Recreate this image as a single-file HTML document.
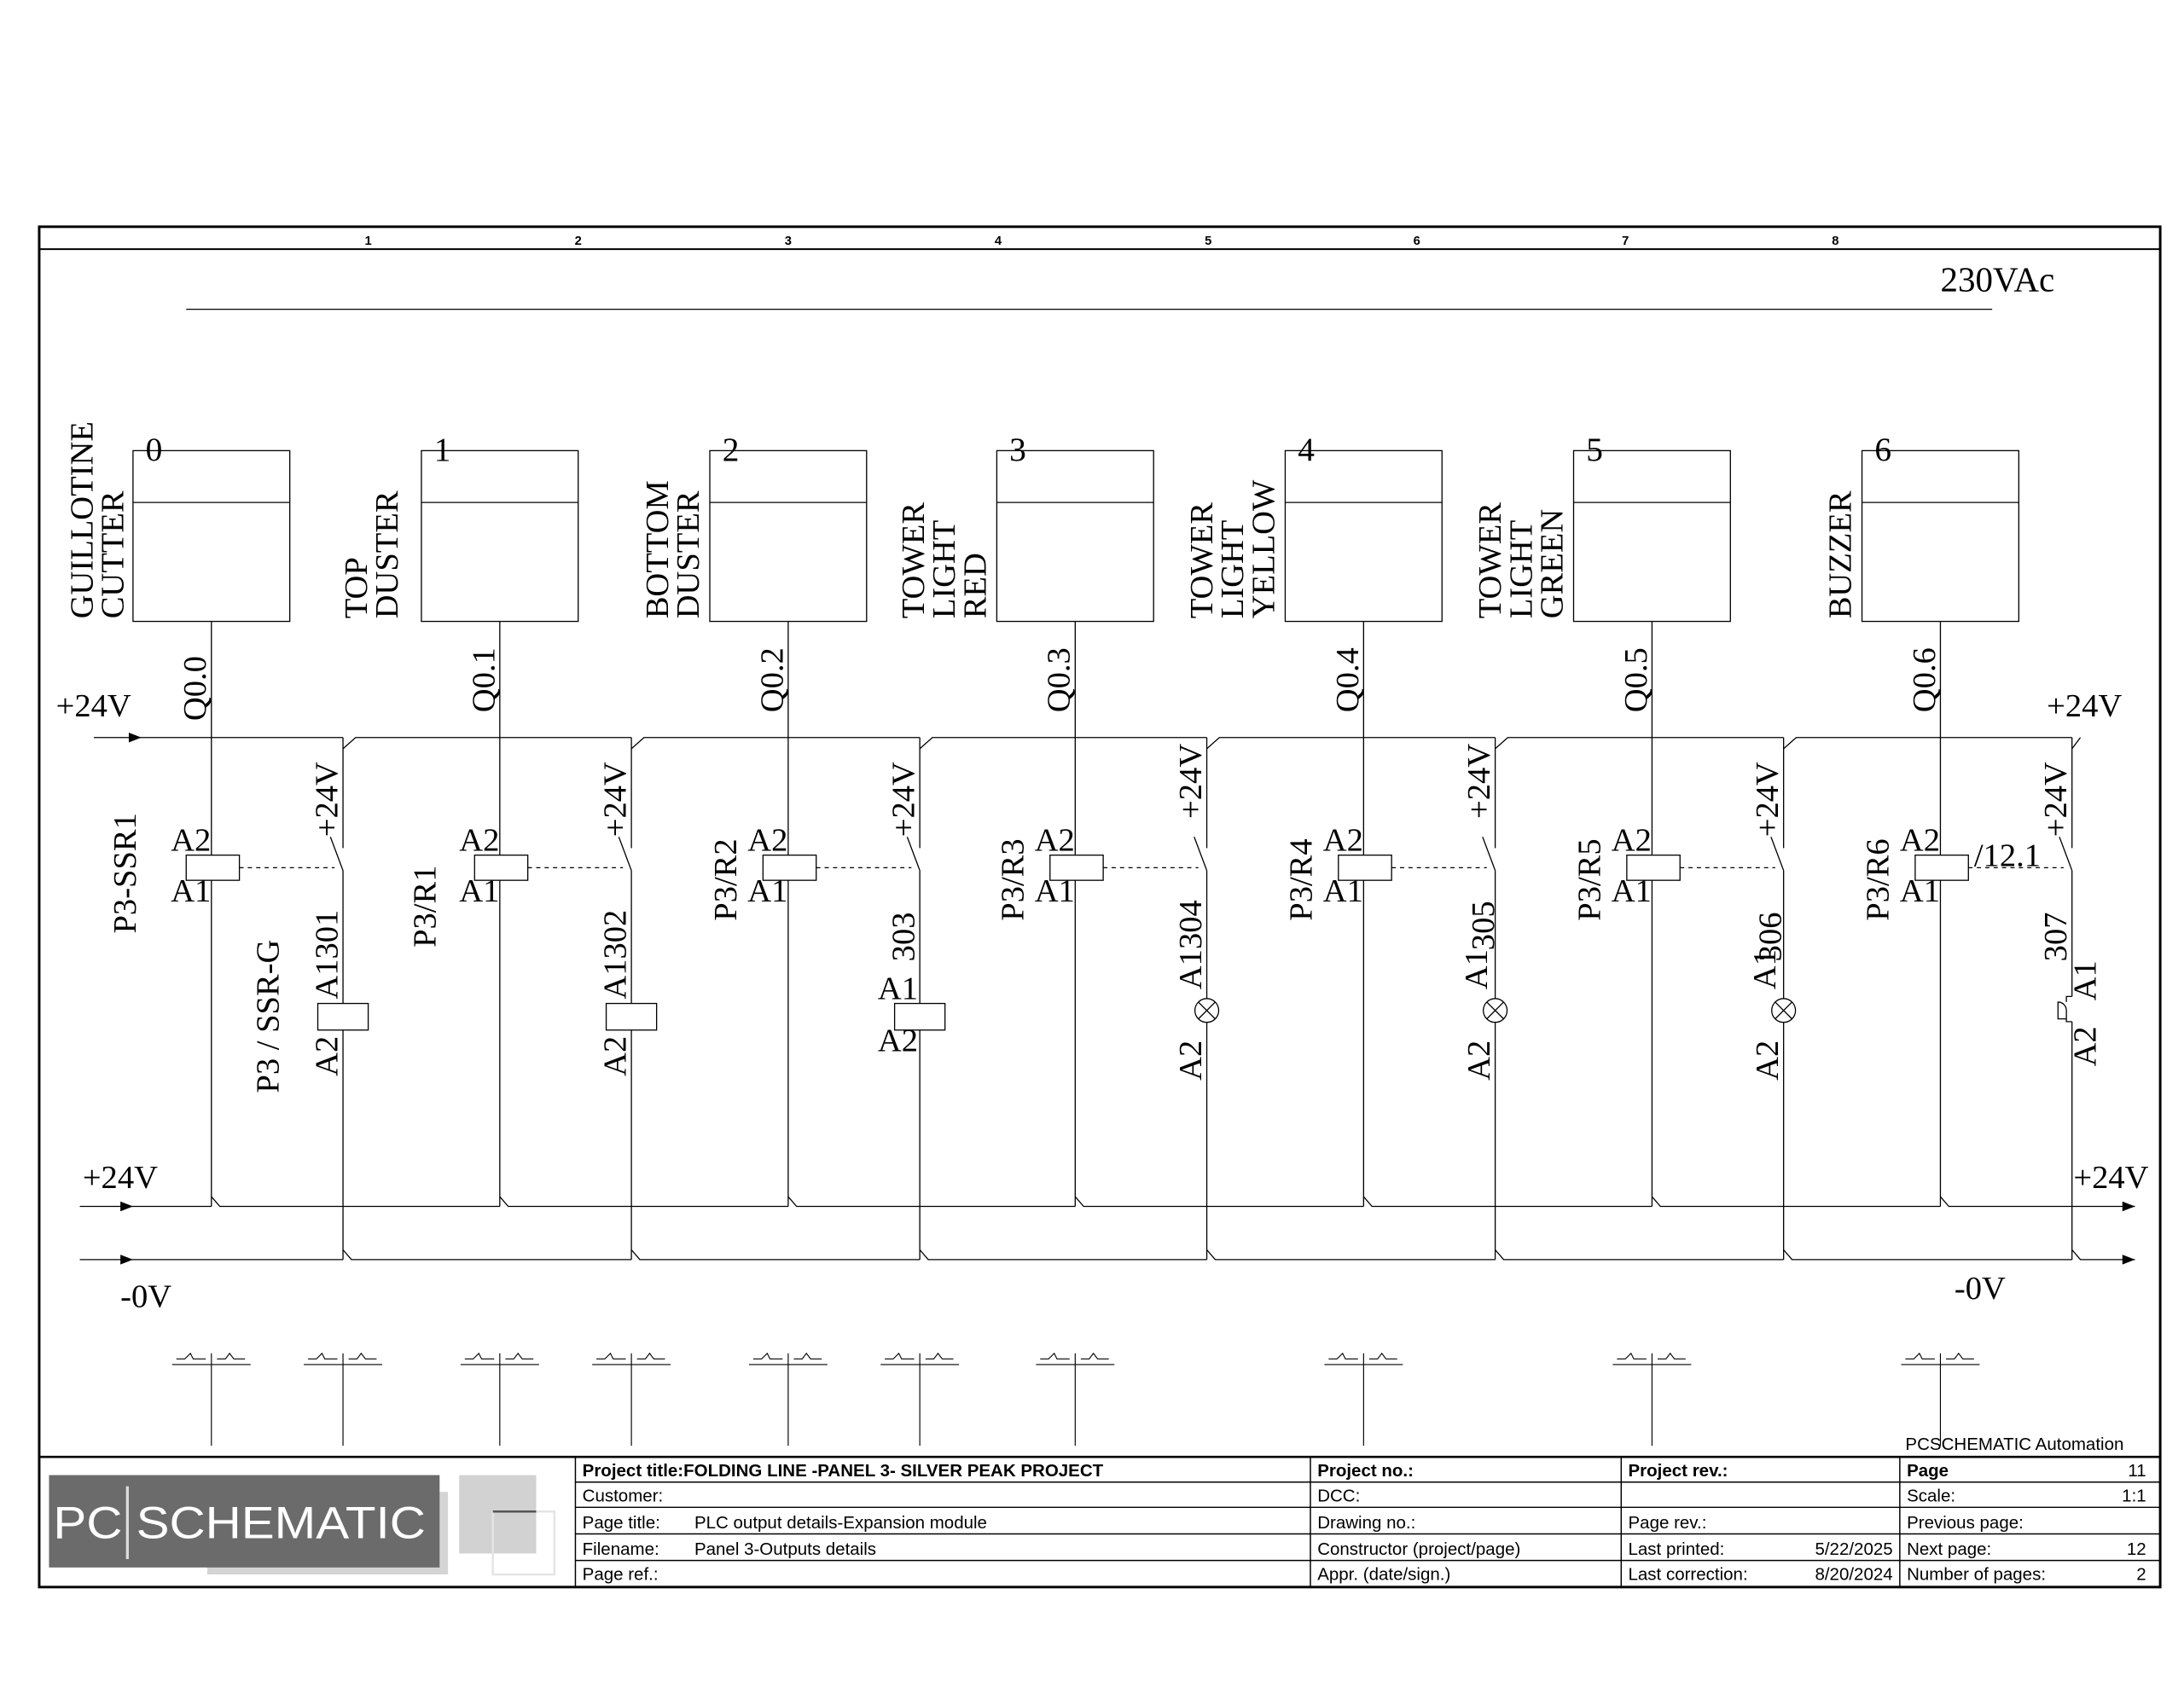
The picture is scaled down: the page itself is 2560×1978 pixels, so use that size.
<!DOCTYPE html>
<html><head><meta charset="utf-8"><style>
html,body{margin:0;padding:0;background:#fff}
svg{display:block}
.s{font-family:"Liberation Serif",serif;fill:#000}
.a{font-family:"Liberation Sans Narrow","Liberation Sans",sans-serif;fill:#000}
</style></head><body>
<svg width="2560" height="1978" viewBox="0 0 1560 1205.4" preserveAspectRatio="none" xmlns="http://www.w3.org/2000/svg">
<g fill="none" stroke="#000" stroke-width="0.8">
<rect x="28" y="162" width="1515" height="972" stroke-width="1.8"/>
<line x1="28" y1="178" x2="1543" y2="178" stroke-width="1.2"/>
<line x1="133" y1="221" x2="1423" y2="221"/>
<rect x="95" y="322" width="112" height="122"/><line x1="95" y1="359" x2="207" y2="359"/>
<rect x="301" y="322" width="112" height="122"/><line x1="301" y1="359" x2="413" y2="359"/>
<rect x="507" y="322" width="112" height="122"/><line x1="507" y1="359" x2="619" y2="359"/>
<rect x="712" y="322" width="112" height="122"/><line x1="712" y1="359" x2="824" y2="359"/>
<rect x="918" y="322" width="112" height="122"/><line x1="918" y1="359" x2="1030" y2="359"/>
<rect x="1124" y="322" width="112" height="122"/><line x1="1124" y1="359" x2="1236" y2="359"/>
<rect x="1330" y="322" width="112" height="122"/><line x1="1330" y1="359" x2="1442" y2="359"/>
<path d="M151 444V862M357 444V862M563 444V862M768 444V862M974 444V862M1180 444V862M1386 444V862"/>
<path d="M67 527H245 M245 535L254 527H451 M451 535L460 527H657 M657 535L666 527H862 M862 535L871 527H1068 M1068 535L1077 527H1274 M1274 535L1283 527H1480 M1480 535L1486 527"/>
<path d="M245 527V606M451 527V606M657 527V606M862 527V606M1068 527V606M1274 527V606M1480 527V606"/>
<path d="M236 598L245 622M442 598L451 622M648 598L657 622M853 598L862 622M1059 598L1068 622M1265 598L1274 622M1471 598L1480 622"/>
<path d="M245 622V900M451 622V900M657 622V900M862 622V900M1068 622V900M1274 622V900M1480 622V712M1480 730V900"/>
<g fill="#fff">
<rect x="133" y="611" width="38" height="18"/><rect x="339" y="611" width="38" height="18"/><rect x="545" y="611" width="38" height="18"/><rect x="750" y="611" width="38" height="18"/><rect x="956" y="611" width="38" height="18"/><rect x="1162" y="611" width="38" height="18"/><rect x="1368" y="611" width="38" height="18"/>
<rect x="227" y="717" width="36" height="19"/><rect x="433" y="717" width="36" height="19"/><rect x="639" y="717" width="36" height="19"/>
<circle cx="862" cy="722" r="8.5"/><circle cx="1068" cy="722" r="8.5"/><circle cx="1274" cy="722" r="8.5"/>
</g>
<path d="M856 716L868 728M868 716L856 728M1062 716L1074 728M1074 716L1062 728M1268 716L1280 728M1280 716L1268 728"/>
<path d="M1480 712H1476V716M1470 716A6 6 0 0 1 1476 722V728H1470ZM1476 728V730H1480" />
<path stroke-dasharray="3 3" d="M171 620H239M377 620H445M583 620H651M788 620H856M994 620H1062M1200 620H1268M1406 620H1474"/>
<path d="M57 862H151 M151 855L157 862H357 M357 855L363 862H563 M563 855L569 862H768 M768 855L774 862H974 M974 855L980 862H1180 M1180 855L1186 862H1386 M1386 855L1392 862H1525"/>
<path d="M57 900H245 M245 893L251 900H451 M451 893L457 900H657 M657 893L663 900H862 M862 893L868 900H1068 M1068 893L1074 900H1274 M1274 893L1280 900H1480 M1480 893L1486 900H1525"/>
<g stroke-width="0.7">
<path d="M151 967V1033M123 975H179M245 967V1033M217 975H273M357 967V1033M329 975H385M451 967V1033M423 975H479M563 967V1033M535 975H591M657 967V1033M629 975H685M768 967V1033M740 975H796M974 967V1033M946 975H1002M1180 967V1033M1152 975H1208M1386 967V1033M1358 975H1414"/>
<path d="M126 971h6l4-4 2 4h9 M155 971h6l3-4 3 4h8 M220 971h6l4-4 2 4h9 M249 971h6l3-4 3 4h8 M332 971h6l4-4 2 4h9 M361 971h6l3-4 3 4h8 M426 971h6l4-4 2 4h9 M455 971h6l3-4 3 4h8 M538 971h6l4-4 2 4h9 M567 971h6l3-4 3 4h8 M632 971h6l4-4 2 4h9 M661 971h6l3-4 3 4h8 M743 971h6l4-4 2 4h9 M772 971h6l3-4 3 4h8 M949 971h6l4-4 2 4h9 M978 971h6l3-4 3 4h8 M1155 971h6l4-4 2 4h9 M1184 971h6l3-4 3 4h8 M1361 971h6l4-4 2 4h9 M1390 971h6l3-4 3 4h8"/>
</g>
<line x1="28" y1="1041" x2="1543" y2="1041" stroke-width="1.6"/>
<path d="M411 1041V1134M936 1041V1134M1158 1041V1134M1357 1041V1134" stroke-width="0.9"/>
<path d="M411 1059H1543M411 1077H1543M411 1096H1543M411 1115H1543" stroke-width="0.9"/>
</g>
<g fill="#000">
<polygon points="92,523.5 101,527 92,530.5"/>
<polygon points="86,858.5 95,862 86,865.5"/>
<polygon points="86,896.5 95,900 86,903.5"/>
<polygon points="1516,858.5 1525,862 1516,865.5"/>
<polygon points="1516,896.5 1525,900 1516,903.5"/>
</g>
<g class="a" font-size="9" font-weight="bold" text-anchor="middle">
<text x="263" y="175">1</text><text x="413" y="175">2</text><text x="563" y="175">3</text><text x="713" y="175">4</text><text x="863" y="175">5</text><text x="1012" y="175">6</text><text x="1161" y="175">7</text><text x="1311" y="175">8</text>
</g>
<g class="s" font-size="23.5">
<text x="1386" y="208" font-size="25">230VAc</text>
<g font-size="24">
<text x="104" y="329">0</text><text x="310" y="329">1</text><text x="516" y="329">2</text><text x="721" y="329">3</text><text x="927" y="329">4</text><text x="1133" y="329">5</text><text x="1339" y="329">6</text>
</g>
<text x="40" y="512">+24V</text><text x="1462" y="512">+24V</text>
<text x="59" y="849">+24V</text><text x="1481" y="849">+24V</text>
<text x="86" y="934">-0V</text><text x="1396" y="928">-0V</text>
<text x="1410" y="619">/12.1</text>
<text x="122" y="608">A2</text><text x="122" y="644">A1</text>
<text x="328" y="608">A2</text><text x="328" y="644">A1</text>
<text x="534" y="608">A2</text><text x="534" y="644">A1</text>
<text x="739" y="608">A2</text><text x="739" y="644">A1</text>
<text x="945" y="608">A2</text><text x="945" y="644">A1</text>
<text x="1151" y="608">A2</text><text x="1151" y="644">A1</text>
<text x="1357" y="608">A2</text><text x="1357" y="644">A1</text>
<text x="627" y="714">A1</text><text x="627" y="751">A2</text>
</g>
<g class="s" font-size="23.5">
<text transform="translate(66,442) rotate(-90)">GUILLOTINE</text>
<text transform="translate(88,442) rotate(-90)">CUTTER</text>
<text transform="translate(262,442) rotate(-90)">TOP</text>
<text transform="translate(284,442) rotate(-90)">DUSTER</text>
<text transform="translate(477,442) rotate(-90)">BOTTOM</text>
<text transform="translate(499,442) rotate(-90)">DUSTER</text>
<text transform="translate(660,442) rotate(-90)">TOWER</text>
<text transform="translate(682,442) rotate(-90)">LIGHT</text>
<text transform="translate(704,442) rotate(-90)">RED</text>
<text transform="translate(866,442) rotate(-90)">TOWER</text>
<text transform="translate(888,442) rotate(-90)">LIGHT</text>
<text transform="translate(910,442) rotate(-90)">YELLOW</text>
<text transform="translate(1072,442) rotate(-90)">TOWER</text>
<text transform="translate(1094,442) rotate(-90)">LIGHT</text>
<text transform="translate(1116,442) rotate(-90)">GREEN</text>
<text transform="translate(1322,442) rotate(-90)">BUZZER</text>

<text transform="translate(147,515) rotate(-90)">Q0.0</text>
<text transform="translate(353,509) rotate(-90)">Q0.1</text>
<text transform="translate(559,509) rotate(-90)">Q0.2</text>
<text transform="translate(764,509) rotate(-90)">Q0.3</text>
<text transform="translate(970,509) rotate(-90)">Q0.4</text>
<text transform="translate(1176,509) rotate(-90)">Q0.5</text>
<text transform="translate(1382,509) rotate(-90)">Q0.6</text>

<text transform="translate(241,598) rotate(-90)">+24V</text>
<text transform="translate(447,598) rotate(-90)">+24V</text>
<text transform="translate(653,598) rotate(-90)">+24V</text>
<text transform="translate(858,585) rotate(-90)">+24V</text>
<text transform="translate(1064,585) rotate(-90)">+24V</text>
<text transform="translate(1270,598) rotate(-90)">+24V</text>
<text transform="translate(1476,598) rotate(-90)">+24V</text>

<text transform="translate(97,667) rotate(-90)">P3-SSR1</text>
<text transform="translate(311,677) rotate(-90)">P3/R1</text>
<text transform="translate(526,658) rotate(-90)">P3/R2</text>
<text transform="translate(731,658) rotate(-90)">P3/R3</text>
<text transform="translate(937,658) rotate(-90)">P3/R4</text>
<text transform="translate(1143,658) rotate(-90)">P3/R5</text>
<text transform="translate(1349,658) rotate(-90)">P3/R6</text>

<text transform="translate(199,781) rotate(-90)">P3 / SSR-G</text>
<text transform="translate(241,714) rotate(-90)">A1301</text>
<text transform="translate(241,769) rotate(-90)">A2</text>
<text transform="translate(447,714) rotate(-90)">A1302</text>
<text transform="translate(447,769) rotate(-90)">A2</text>
<text transform="translate(653,687) rotate(-90)">303</text>
<text transform="translate(858,707) rotate(-90)">A1304</text>
<text transform="translate(858,772) rotate(-90)">A2</text>
<text transform="translate(1062,707) rotate(-90)">A1</text>
<text transform="translate(1067,679) rotate(-90)">305</text>
<text transform="translate(1064,772) rotate(-90)">A2</text>
<text transform="translate(1268,707) rotate(-90)">A1</text>
<text transform="translate(1272,687) rotate(-90)">306</text>
<text transform="translate(1270,772) rotate(-90)">A2</text>
<text transform="translate(1476,687) rotate(-90)">307</text>
<text transform="translate(1497,715) rotate(-90)">A1</text>
<text transform="translate(1497,762) rotate(-90)">A2</text>
</g>
<rect x="148" y="1066" width="172" height="59" fill="#d4d4d4"/>
<rect x="35" y="1054" width="279" height="66" fill="#6b6b6b"/>
<rect x="328" y="1054" width="55" height="56" fill="#d2d2d2"/>
<rect x="352" y="1080" width="44" height="45" fill="none" stroke="#e4e4e4" stroke-width="1.5"/>
<line x1="352" y1="1080" x2="383" y2="1080" stroke="#555" stroke-width="1.5"/>
<text x="38" y="1099" font-family="Liberation Sans Narrow,Liberation Sans,sans-serif" font-size="32" fill="#fff" textLength="266" lengthAdjust="spacingAndGlyphs">PC SCHEMATIC</text>
<rect x="90" y="1062" width="2" height="52" fill="#ddd"/>
<g class="a" font-size="12.5">
<text x="1361" y="1036">PCSCHEMATIC Automation</text>
<text x="416" y="1055" font-weight="bold">Project title:FOLDING LINE -PANEL 3- SILVER PEAK PROJECT</text>
<text x="416" y="1073">Customer:</text>
<text x="416" y="1092">Page title:</text><text x="496" y="1092">PLC  output details-Expansion module</text>
<text x="416" y="1111">Filename:</text><text x="496" y="1111">Panel 3-Outputs details</text>
<text x="416" y="1129">Page ref.:</text>
<text x="941" y="1055" font-weight="bold">Project no.:</text>
<text x="941" y="1073">DCC:</text>
<text x="941" y="1092">Drawing no.:</text>
<text x="941" y="1111">Constructor (project/page)</text>
<text x="941" y="1129">Appr. (date/sign.)</text>
<text x="1163" y="1055" font-weight="bold">Project rev.:</text>
<text x="1163" y="1092">Page rev.:</text>
<text x="1163" y="1111">Last printed:</text><text x="1352" y="1111" text-anchor="end">5/22/2025</text>
<text x="1163" y="1129">Last correction:</text><text x="1352" y="1129" text-anchor="end">8/20/2024</text>
<text x="1362" y="1055" font-weight="bold">Page</text><text x="1533" y="1055" text-anchor="end">11</text>
<text x="1362" y="1073">Scale:</text><text x="1533" y="1073" text-anchor="end">1:1</text>
<text x="1362" y="1092">Previous page:</text>
<text x="1362" y="1111">Next page:</text><text x="1533" y="1111" text-anchor="end">12</text>
<text x="1362" y="1129">Number of pages:</text><text x="1533" y="1129" text-anchor="end">2</text>
</g>
</svg>
</body></html>
